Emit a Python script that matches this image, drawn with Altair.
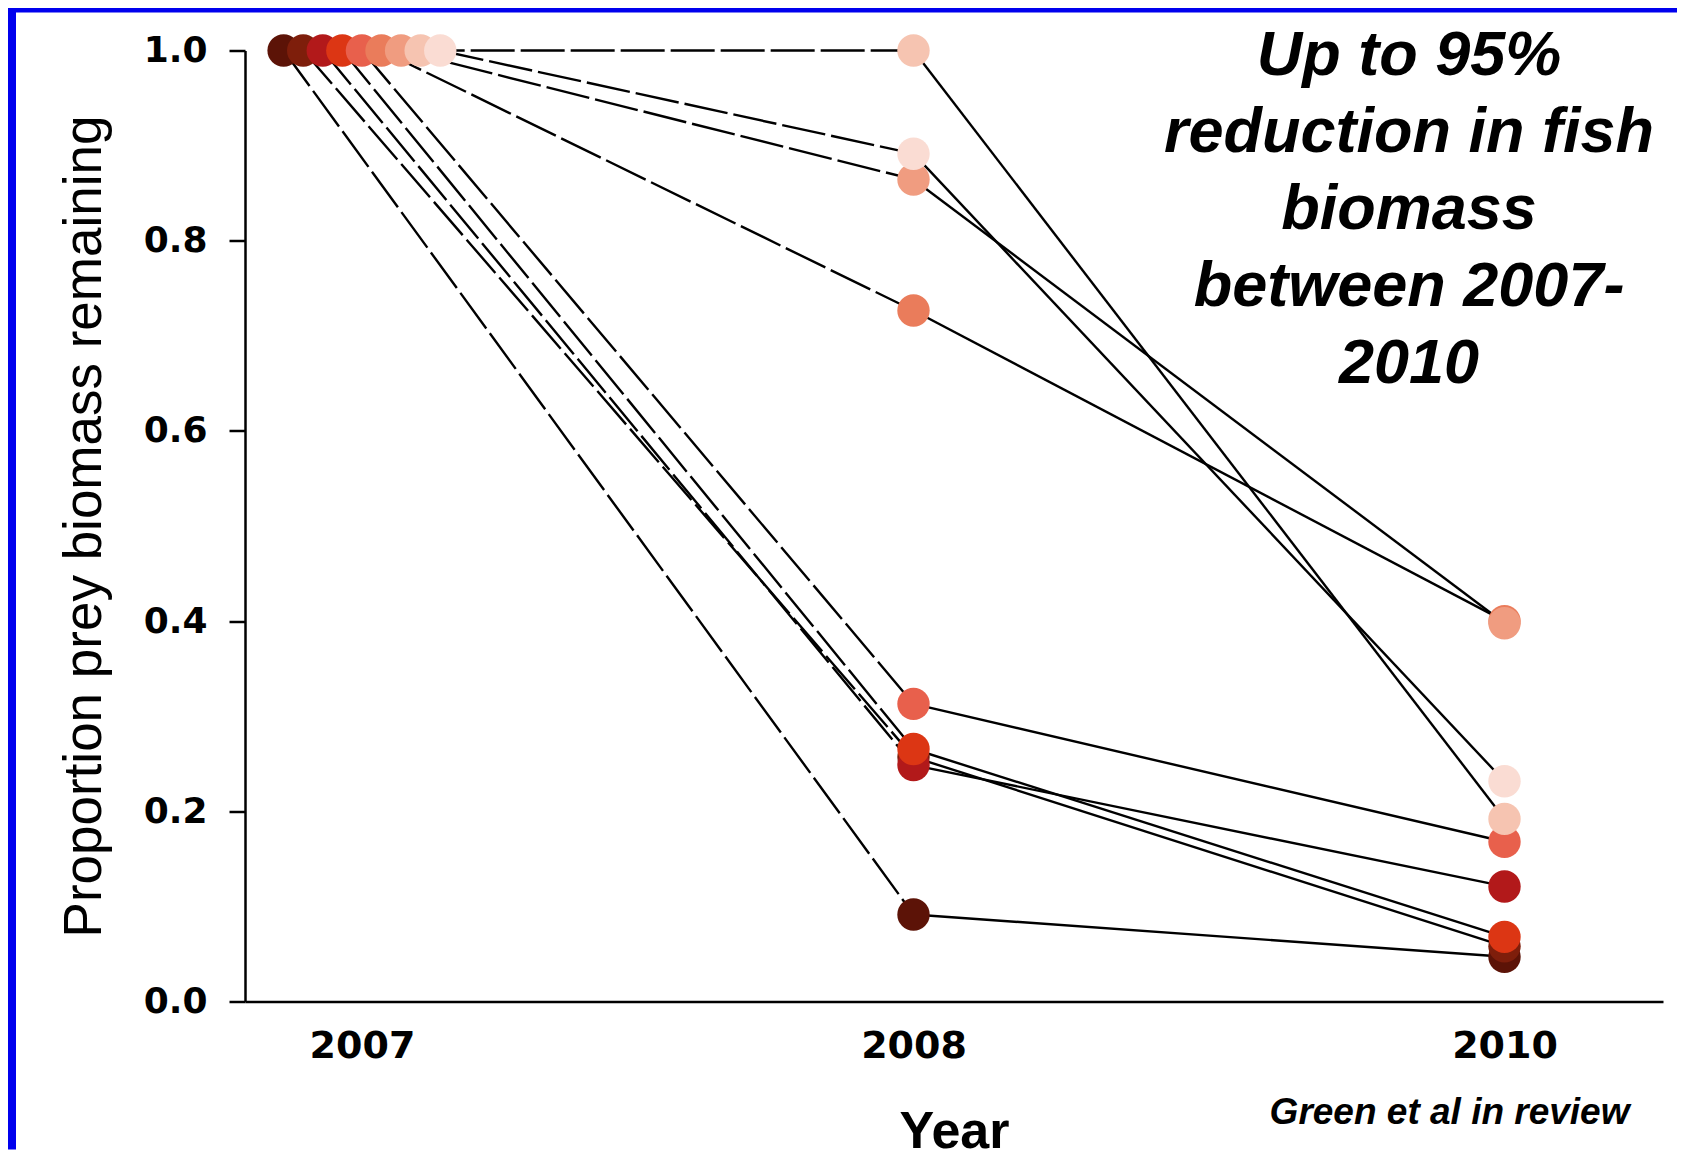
import altair as alt
import pandas as pd

# ---- data ----
sites = ["Site 1", "Site 2", "Site 3", "Site 4", "Site 5", "Site 6", "Site 7", "Site 8", "Site 9"]
site_colors = ["#5c1307", "#7e1e0b", "#b2191a", "#dc3614", "#e8604c",
               "#ea7c5b", "#f09c80", "#f6c4b1", "#fadcd3"]
years = [2007, 2008, 2010]
prop_2007 = [1.0, 1.0, 1.0, 1.0, 1.0, 1.0, 1.0, 1.0, 1.0]
prop_2008 = [0.0915, 0.257, 0.2486, 0.2655, 0.313, 0.7266, 0.8644, 1.0, 0.8915]
prop_2010 = [0.047, 0.058, 0.121, 0.068, 0.168, 0.400, 0.3977, 0.192, 0.2316]
tick_values_y = [0.0, 0.2, 0.4, 0.6, 0.8, 1.0]
annotation_lines = ["Up to 95%", "reduction in fish", "biomass", "between 2007-", "2010"]
source_note = "Green et al in review"

# small horizontal spread of the 2007 points (in years), dark -> light
spread = 0.0355

rows = []
for i, s in enumerate(sites):
    for yr, vals in zip(years, [prop_2007, prop_2008, prop_2010]):
        xpos = yr + (i - 4) * spread if yr == 2007 else yr
        rows.append({"site": s, "idx": i, "year": yr, "xpos": xpos, "value": vals[i]})
df = pd.DataFrame(rows)

W, H = 1418, 951
PAD = {"left": 237, "top": 42.5, "right": 14, "bottom": 148}

xscale = alt.Scale(domain=[2006.788, 2008, 2010, 2010.536],
                   range=[0, 668.5, 1259.5, 1418], zero=False, nice=False)
yscale = alt.Scale(domain=[0, 1], nice=False, zero=True)

xaxis = alt.Axis(values=years, format="d", labelFlush=False, ticks=False, tickSize=0,
                 labelFont="DejaVu Sans", labelFontWeight="bold", labelFontSize=38,
                 labelColor="black", labelPadding=26, domainColor="black", domainWidth=2.5,
                 grid=False, title="Year", titleFont="Liberation Sans", titleFontSize=52,
                 titleFontWeight="bold", titleColor="black", titleX=709, titleY=104.5,
                 titleBaseline="top", titleAlign="center")
yaxis = alt.Axis(values=tick_values_y, format=".1f", labelFont="DejaVu Sans",
                 labelFontWeight="bold", labelFontSize=36, labelColor="black",
                 labelPadding=22, tickSize=16, tickWidth=2.5, tickColor="black",
                 domainColor="black", domainWidth=2.5, grid=False,
                 title="Proportion prey biomass remaining",
                 titleFont="Liberation Sans", titleFontSize=53, titleFontWeight="normal",
                 titleColor="black", titleX=-161, titleY=475.5, titleAngle=270,
                 titleBaseline="middle", titleAlign="center")

base = alt.Chart(df)

x_enc = alt.X("xpos:Q", scale=xscale, axis=xaxis)
y_enc = alt.Y("value:Q", scale=yscale, axis=yaxis)

dashed = base.transform_filter(alt.datum.year <= 2008).mark_line(
    color="black", strokeWidth=2.4, strokeDash=[44, 6]
).encode(x=x_enc, y=y_enc, detail="site:N", order="year:Q")

solid = base.transform_filter(alt.datum.year >= 2008).mark_line(
    color="black", strokeWidth=2.4
).encode(x=x_enc, y=y_enc, detail="site:N", order="year:Q")

points = base.mark_circle(size=1050, opacity=1).encode(
    x=x_enc, y=y_enc,
    color=alt.Color("site:N", scale=alt.Scale(domain=sites, range=site_colors), legend=None),
)

one = pd.DataFrame({"x": [2009.677], "y": [0.9742]})
annot = alt.Chart(one).mark_text(
    text=annotation_lines, font="Liberation Sans", fontSize=63, fontWeight="bold",
    fontStyle="italic", align="center", baseline="alphabetic", lineHeight=77, color="black"
).encode(x=alt.X("x:Q", scale=xscale), y=alt.Y("y:Q", scale=yscale))

note_df = pd.DataFrame({"x": [2009.814], "y": [-0.1288]})
note = alt.Chart(note_df).mark_text(
    text=source_note, font="Liberation Sans", fontSize=37, fontWeight="bold",
    fontStyle="italic", align="center", baseline="alphabetic", color="black"
).encode(x=alt.X("x:Q", scale=xscale), y=alt.Y("y:Q", scale=yscale))

frame_df = pd.DataFrame({"k": [0]})
left_bar = alt.Chart(frame_df).mark_rect(color="#0000ee").encode(
    x=alt.value(-237), x2=alt.value(-229), y=alt.value(-42.5), y2=alt.value(H + PAD["bottom"]))
top_bar = alt.Chart(frame_df).mark_rect(color="#0000ee").encode(
    x=alt.value(-237), x2=alt.value(W + PAD["right"]), y=alt.value(-42.5), y2=alt.value(-38))

chart = alt.layer(left_bar, top_bar, dashed, solid, points, annot, note).properties(
    width=W, height=H, padding=PAD, autosize=alt.AutoSizeParams(type="none"),
    background="white"
).configure_view(strokeWidth=0)

chart.save("out.html", embed_options={"renderer": "svg", "actions": False})
